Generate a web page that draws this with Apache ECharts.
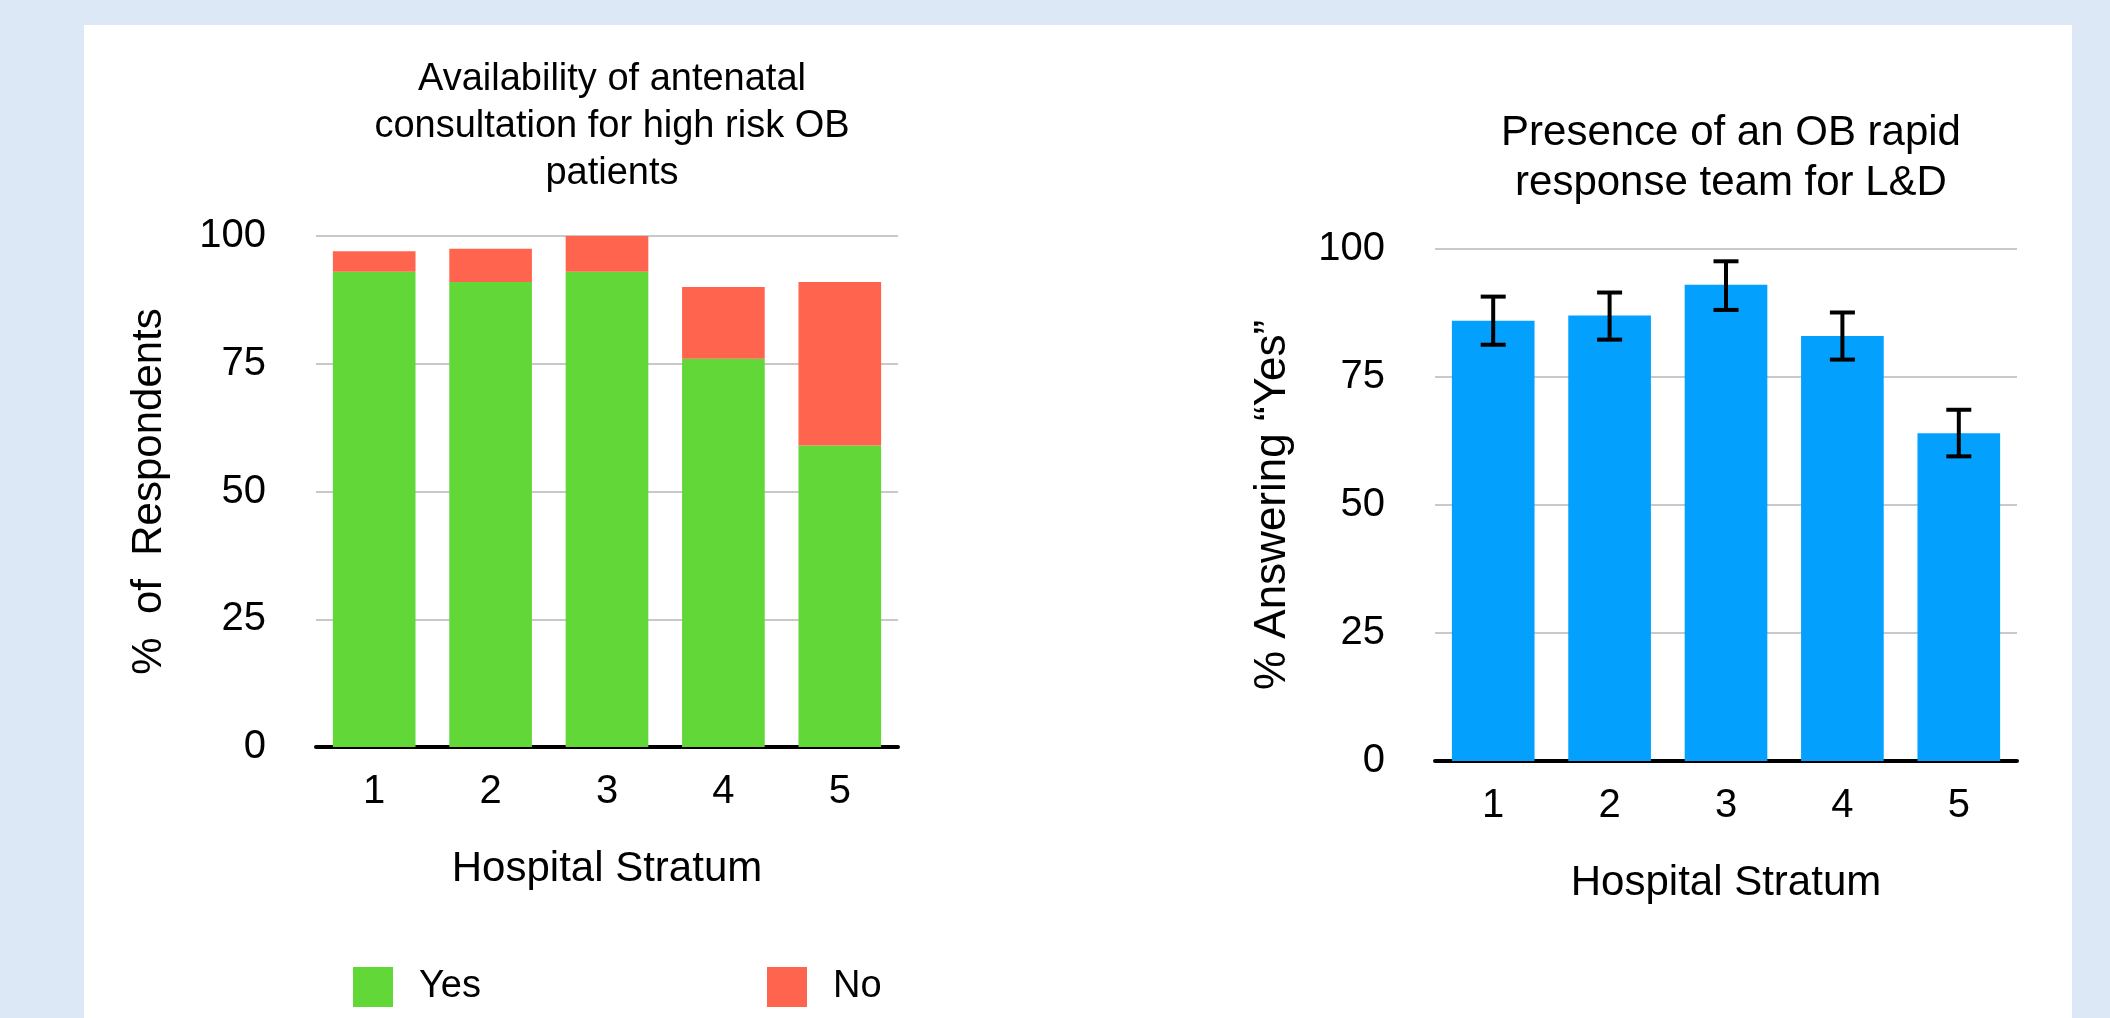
<!DOCTYPE html>
<html>
<head>
<meta charset="utf-8">
<script src="https://cdn.jsdelivr.net/npm/echarts@6/dist/echarts.min.js"></script>
<style>
html,body{margin:0;padding:0;background:#DCE8F5;}
#chart{width:2110px;height:1018px;}
</style>
</head>
<body>
<div id="chart"></div>
<script>
// Data
const categories = ['1', '2', '3', '4', '5'];
const yesValues = [93, 91, 93, 76, 59];
const noValues = [4, 6.5, 7, 14, 32];
const teamValues = [86, 87, 93, 83, 64];
const errLow = [81.3, 82.3, 88.1, 78.4, 59.5];
const errHigh = [90.7, 91.5, 97.6, 87.6, 68.6];
const leftTitle = 'Availability of antenatal\nconsultation for high risk OB\npatients';
const rightTitle = 'Presence of an OB rapid\nresponse team for L&D';
const leftYName = '%  of  Respondents';
const rightYName = '% Answering \u201CYes\u201D';
const xName = 'Hospital Stratum';

const FONT = '"Liberation Sans", Arial, Helvetica, sans-serif';
const GREEN = '#62D838';
const RED = '#FF644E';
const BLUE = '#03A0FE';

const chart = echarts.init(document.getElementById('chart'), null, {renderer: 'canvas'});

function yAxisCfg(gridIndex, name, gap, nameSize) {
  return {
    type: 'value', gridIndex: gridIndex, min: 0, max: 100, interval: 25,
    name: name, nameLocation: 'middle', nameGap: gap, nameRotate: 90,
    nameTextStyle: {fontFamily: FONT, fontSize: nameSize, color: '#000'},
    axisLabel: {fontFamily: FONT, fontSize: 40, color: '#000', margin: 50},
    axisLine: {show: false}, axisTick: {show: false},
    splitLine: {show: true, lineStyle: {color: '#C9C9C9', width: 2}}
  };
}
function xAxisCfg(gridIndex) {
  return {
    type: 'category', gridIndex: gridIndex, data: categories,
    name: xName, nameLocation: 'middle', nameGap: 101,
    nameTextStyle: {fontFamily: FONT, fontSize: 42, color: '#000'},
    axisLabel: {fontFamily: FONT, fontSize: 40, color: '#000', margin: 25},
    axisLine: {show: true, lineStyle: {color: '#000', width: 4}},
    axisTick: {show: false}
  };
}

const option = {
  backgroundColor: '#DCE8F5',
  animation: false,
  graphic: [{
    type: 'rect', shape: {x: 84, y: 25, width: 1988, height: 1000},
    style: {fill: '#FFFFFF'}, z: -10, silent: true
  }],
  title: [
    {text: leftTitle, left: 607, top: 51, textAlign: 'center',
     textStyle: {fontFamily: FONT, fontSize: 38, fontWeight: 'normal', color: '#000', lineHeight: 47}},
    {text: rightTitle, left: 1726, top: 103, textAlign: 'center',
     textStyle: {fontFamily: FONT, fontSize: 42, fontWeight: 'normal', color: '#000', lineHeight: 50}}
  ],
  legend: [
    {data: ['Yes'], left: 348, top: 962, icon: 'rect', itemWidth: 40, itemHeight: 40,
     textStyle: {fontFamily: FONT, fontSize: 38, color: '#000', padding: [0, 0, 0, 21]}},
    {data: ['No'], left: 762, top: 962, icon: 'rect', itemWidth: 40, itemHeight: 40,
     textStyle: {fontFamily: FONT, fontSize: 38, color: '#000', padding: [0, 0, 0, 21]}}
  ],
  grid: [
    {left: 316, width: 582, top: 236, height: 511},
    {left: 1435, width: 582, top: 249, height: 512}
  ],
  xAxis: [xAxisCfg(0), xAxisCfg(1)],
  yAxis: [yAxisCfg(0, leftYName, 146, 42), yAxisCfg(1, rightYName, 140, 44)],
  series: [
    {name: 'Yes', type: 'bar', stack: 'a', xAxisIndex: 0, yAxisIndex: 0, data: yesValues,
     barWidth: '71%', itemStyle: {color: GREEN}},
    {name: 'No', type: 'bar', stack: 'a', xAxisIndex: 0, yAxisIndex: 0, data: noValues,
     barWidth: '71%', itemStyle: {color: RED}},
    {name: 'Team', type: 'bar', xAxisIndex: 1, yAxisIndex: 1, data: teamValues,
     barWidth: '71%', itemStyle: {color: BLUE}},
    {name: 'Error', type: 'custom', xAxisIndex: 1, yAxisIndex: 1, z: 10,
     data: categories.map((c, i) => [i, errLow[i], errHigh[i]]),
     renderItem: function (params, api) {
       const x = api.value(0);
       const lo = api.coord([x, api.value(1)]);
       const hi = api.coord([x, api.value(2)]);
       const hw = 12.5;
       const st = {stroke: '#000', lineWidth: 4};
       return {type: 'group', children: [
         {type: 'line', shape: {x1: hi[0], y1: hi[1], x2: lo[0], y2: lo[1]}, style: st},
         {type: 'line', shape: {x1: hi[0] - hw, y1: hi[1], x2: hi[0] + hw, y2: hi[1]}, style: st},
         {type: 'line', shape: {x1: lo[0] - hw, y1: lo[1], x2: lo[0] + hw, y2: lo[1]}, style: st}
       ]};
     }}
  ]
};
chart.setOption(option);
</script>
</body>
</html>
